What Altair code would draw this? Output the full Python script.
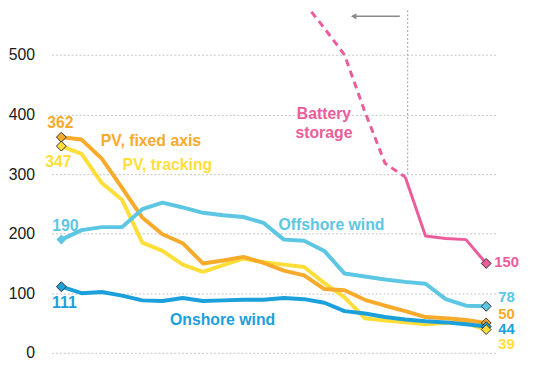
import altair as alt
import pandas as pd

# ---- data (half-yearly index 0..21) ----
idx = list(range(22))
pv_fixed = [362, 358, 326, 277, 227, 199, 184, 150, 155, 161, 151, 138, 130, 107, 105, 89, 79, 70, 60, 58, 55, 50]
pv_tracking = [347, 334, 285, 257, 185, 171, 148, 136, 147, 158, 152, 148, 144, 117, 93, 58, 54, 51, 48, 50, 50, 39]
offshore = [190, 206, 211, 211, 241, 252, 244, 235, 231, 228, 218, 190, 188, 171, 133, 128, 123, 119, 116, 90, 79, 78]
onshore = [111, 100, 102, 96, 88, 87, 92, 87, 88, 89, 89, 92, 90, 84, 70, 66, 60, 56, 53, 51, 48, 44]
battery_solid_x = [17, 18, 19, 20, 21]
battery_solid = [295, 196, 192, 190, 150]
battery_dash_x = [12, 13, 14, 15, 16, 16.7, 17]
battery_dash = [588, 545, 500, 405, 318, 302, 295]

series_names = ["PV, tracking", "PV, fixed axis", "Offshore wind", "Onshore wind", "Battery storage"]
line_colors = ["#FFDE3A", "#F8AA2B", "#5CC6E3", "#1BA0DC", "#EC5C9B"]
label_colors = ["#E6C63A", "#F7AD35", "#66CAE8", "#1E9FDB", "#EC5C9B"]

rows = []
for name, vals in [("PV, tracking", pv_tracking), ("PV, fixed axis", pv_fixed),
                   ("Offshore wind", offshore), ("Onshore wind", onshore)]:
    for i, v in zip(idx, vals):
        rows.append({"series": name, "i": i, "v": v})
for i, v in zip(battery_solid_x, battery_solid):
    rows.append({"series": "Battery storage", "i": i, "v": v})
df = pd.DataFrame(rows)
dash_df = pd.DataFrame({"series": "Battery storage", "i": battery_dash_x, "v": battery_dash})

# markers
start_markers = pd.DataFrame({
    "series": ["PV, fixed axis", "PV, tracking", "Onshore wind"],
    "i": [0, 0, 0], "v": [pv_fixed[0], pv_tracking[0], onshore[0]]})
start_plain = pd.DataFrame({"series": ["Offshore wind"], "i": [0], "v": [offshore[0]]})
end_markers = pd.DataFrame({
    "series": ["Battery storage", "Offshore wind", "PV, fixed axis", "Onshore wind", "PV, tracking"],
    "i": [21] * 5, "v": [battery_solid[-1], offshore[-1], pv_fixed[-1], onshore[-1], pv_tracking[-1]]})

# value labels
val_center = pd.DataFrame({
    "series": ["PV, fixed axis", "PV, tracking", "Offshore wind", "Onshore wind"],
    "text": ["362", "347", "190", "111"],
    "i": [-0.05, -0.15, 0.2, 0.15],
    "v": [385, 320, 212, 83]})
val_right = pd.DataFrame({
    "series": ["Battery storage", "Offshore wind", "PV, fixed axis", "Onshore wind", "PV, tracking"],
    "text": ["150", "78", "50", "44", "39"],
    "i": [21.4, 21.6, 21.6, 21.6, 21.6],
    "v": [152, 94, 65, 40, 15]})

name_labels = pd.DataFrame({
    "series": ["PV, fixed axis", "PV, tracking", "Offshore wind", "Onshore wind"],
    "text": ["PV, fixed axis", "PV, tracking", "Offshore wind", "Onshore wind"],
    "i": [1.95, 3.02, 10.73, 5.37],
    "v": [356, 315, 215, 55]})
battery_label = pd.DataFrame({"series": ["Battery storage"], "text": [["Battery", "storage"]],
                              "i": [12.98], "v": [401]})

x_scale = alt.Scale(domain=[-0.49, 21.51], nice=False, zero=False)
y_scale = alt.Scale(domain=[0, 575], nice=False)
X = alt.X("i:Q", scale=x_scale, axis=None)
Y = alt.Y("v:Q", scale=y_scale,
          axis=alt.Axis(values=[0, 100, 200, 300, 400, 500], title=None, domain=False, ticks=False,
                        grid=True, gridDash=[2, 2], gridColor="#c4c4c4", gridWidth=1,
                        labelFontSize=16, labelColor="#1a1a1a", labelFont="Liberation Sans",
                        labelPadding=17))
Yp = alt.Y("v:Q", scale=y_scale)
line_color = alt.Color("series:N", scale=alt.Scale(domain=series_names, range=line_colors), legend=None)
lab_color = alt.Color("series:N", scale=alt.Scale(domain=series_names, range=label_colors), legend=None)
fill_color = alt.Fill("series:N", scale=alt.Scale(domain=series_names, range=line_colors), legend=None)

lines = alt.Chart(df[df["series"] != "Battery storage"]).mark_line(
    strokeWidth=4, clip=True, strokeJoin="round").encode(x=X, y=Y, color=line_color, detail="series:N")
pink_solid = alt.Chart(df[df["series"] == "Battery storage"]).mark_line(
    strokeWidth=3, clip=True, strokeJoin="round").encode(x=X, y=Yp, color=line_color)
dashed = alt.Chart(dash_df).mark_line(strokeWidth=3, strokeDash=[7, 5], clip=True).encode(
    x=X, y=Yp, color=line_color)

mk_start = alt.Chart(start_markers).mark_point(shape="diamond", filled=True, size=100, stroke="#333333",
                                               strokeWidth=1, opacity=1).encode(
    x=X, y=Yp, fill=fill_color)
mk_plain = alt.Chart(start_plain).mark_point(shape="diamond", filled=True, size=100, opacity=1).encode(
    x=X, y=Yp, fill=fill_color)
mk_end = alt.Chart(end_markers).mark_point(shape="diamond", filled=True, size=100, stroke="#333333",
                                           strokeWidth=1, opacity=1).encode(
    x=X, y=Yp, fill=fill_color)

txt_center = alt.Chart(val_center).mark_text(
    font="Liberation Sans", fontSize=16, fontWeight="bold", align="center", baseline="middle").encode(
    x=X, y=Yp, text="text:N", color=lab_color)
txt_left = alt.Chart(val_right).mark_text(
    font="Liberation Sans", fontSize=15, fontWeight="bold", align="left", baseline="middle").encode(
    x=X, y=Yp, text="text:N", color=lab_color)
names = alt.Chart(name_labels).mark_text(
    font="Liberation Sans", fontSize=16, fontWeight="bold", align="left", baseline="middle").encode(
    x=X, y=Yp, text="text:N", color=lab_color)
batt = alt.Chart(battery_label).mark_text(
    font="Liberation Sans", fontSize=16, fontWeight="bold", align="center", baseline="middle",
    lineHeight=19).encode(
    x=X, y=Yp, text="text:N", color=lab_color)

# vertical divider and arrow
vline = alt.Chart(pd.DataFrame({"i": [17.12], "v": [575], "v2": [300]})).mark_rule(
    color="#9a9a9a", strokeDash=[2, 2], strokeWidth=1).encode(
    x=X, y=Yp, y2="v2:Q")
arrow_line = alt.Chart(pd.DataFrame({"i": [14.55], "i2": [16.73], "v": [565]})).mark_rule(
    color="#8a8a8a", strokeWidth=1.5).encode(x=X, x2="i2:Q", y=Yp)
arrow_head = alt.Chart(pd.DataFrame({"i": [14.45], "v": [565]})).mark_point(
    shape="triangle-left", filled=True, size=40, color="#8a8a8a", opacity=1).encode(
    x=X, y=Yp)

chart = alt.layer(
    vline, arrow_line, arrow_head, lines, pink_solid, dashed, mk_plain, mk_start, mk_end,
    txt_center, txt_left, names, batt
).properties(
    width=451, height=347,
    autosize=alt.AutoSizeParams(type="none"),
    padding={"left": 44, "top": 0, "right": 40, "bottom": 8}
).configure_view(stroke=None)

chart.save("out.html", embed_options={"renderer": "svg", "actions": False})
